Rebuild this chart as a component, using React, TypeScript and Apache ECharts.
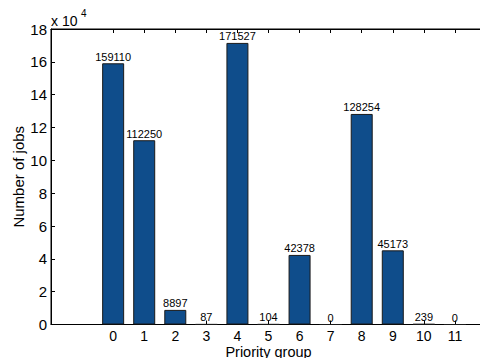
import React, { useEffect, useRef } from "react";
import * as echarts from "echarts";

const groups = [0, 1, 2, 3, 4, 5, 6, 7, 8, 9, 10, 11];
const jobs = [159110, 112250, 8897, 87, 171527, 104, 42378, 0, 128254, 45173, 239, 0];
const yTickValues = [0, 20000, 40000, 60000, 80000, 100000, 120000, 140000, 160000, 180000];
const xTitle = "Priority group";
const yTitle = "Number of jobs";

const FONT = "'Liberation Sans', Arial, Helvetica, sans-serif";

export default function App() {
  const ref = useRef<HTMLDivElement>(null);
  useEffect(() => {
    const chart = echarts.init(ref.current!, null, { renderer: "svg" });
    const tickStyle = { color: "#000", width: 1 };
    chart.setOption({
      animation: false,
      backgroundColor: "#fff",
      grid: {
        left: 51,
        right: -6,
        top: 29,
        bottom: 33.5,
        show: true,
        borderColor: "#000",
        borderWidth: 1,
        backgroundColor: "transparent",
        containLabel: false,
        outerBoundsMode: "none",
      },
      xAxis: [
        {
          type: "value",
          min: -2,
          max: 12,
          interval: 1,
          position: "bottom",
          axisLine: { show: true, onZero: false, lineStyle: tickStyle },
          axisTick: { show: true, inside: true, length: 4, lineStyle: tickStyle, customValues: groups },
          axisLabel: {
            show: true,
            customValues: groups,
            color: "#000",
            fontSize: 14,
            lineHeight: 11,
            fontFamily: FONT,
            margin: 5.5,
          },
          splitLine: { show: false },
          name: xTitle,
          nameLocation: "middle",
          nameGap: 22,
          nameMoveOverlap: false,
          nameTextStyle: { color: "#000", fontSize: 14.5, lineHeight: 11, fontFamily: FONT },
        },
        {
          type: "value",
          min: -2,
          max: 12,
          interval: 1,
          position: "top",
          axisLine: { show: true, onZero: false, lineStyle: tickStyle },
          axisTick: { show: true, inside: true, length: 4, lineStyle: tickStyle, customValues: groups },
          axisLabel: { show: false },
          splitLine: { show: false },
        },
      ],
      yAxis: [
        {
          type: "value",
          min: 0,
          max: 180000,
          interval: 20000,
          position: "left",
          axisLine: { show: true, onZero: false, lineStyle: tickStyle },
          axisTick: { show: true, inside: true, length: 4, lineStyle: tickStyle, customValues: yTickValues },
          axisLabel: {
            color: "#000",
            fontSize: 15,
            fontFamily: FONT,
            margin: 4,
            customValues: yTickValues,
            formatter: (v: number) => String(v / 10000),
          },
          splitLine: { show: false },
          name: yTitle,
          nameLocation: "middle",
          nameRotate: 90,
          nameGap: 25,
          nameMoveOverlap: false,
          nameTextStyle: { color: "#000", fontSize: 15, fontFamily: FONT },
        },
        {
          type: "value",
          min: 0,
          max: 180000,
          interval: 20000,
          position: "right",
          axisLine: { show: true, onZero: false, lineStyle: tickStyle },
          axisTick: { show: true, inside: true, length: 4, lineStyle: tickStyle },
          axisLabel: { show: false },
          splitLine: { show: false },
        },
      ],
      graphic: [
        {
          type: "text",
          left: 51,
          top: 14,
          style: { text: "x 10", fontSize: 14, fontFamily: FONT, fill: "#000" },
        },
        {
          type: "text",
          left: 81,
          top: 8,
          style: { text: "4", fontSize: 10, fontFamily: FONT, fill: "#000" },
        },
      ],
      series: [
        {
          type: "bar",
          xAxisIndex: 0,
          yAxisIndex: 0,
          barWidth: 22,
          data: groups.map((g, i) => [g, jobs[i]]),
          itemStyle: { color: "#0f4d8b", borderColor: "#1a1a1a", borderWidth: 1 },
          label: {
            show: true,
            position: "top",
            distance: 1,
            color: "#000",
            fontSize: 11,
            fontFamily: FONT,
            formatter: (p: any) => String(p.value[1]),
          },
        },
      ],
    });
    return () => chart.dispose();
  }, []);
  return (
    <div
      ref={ref}
      style={{ position: "fixed", left: 0, top: 0, width: 480, height: 358, background: "#fff" }}
    />
  );
}
